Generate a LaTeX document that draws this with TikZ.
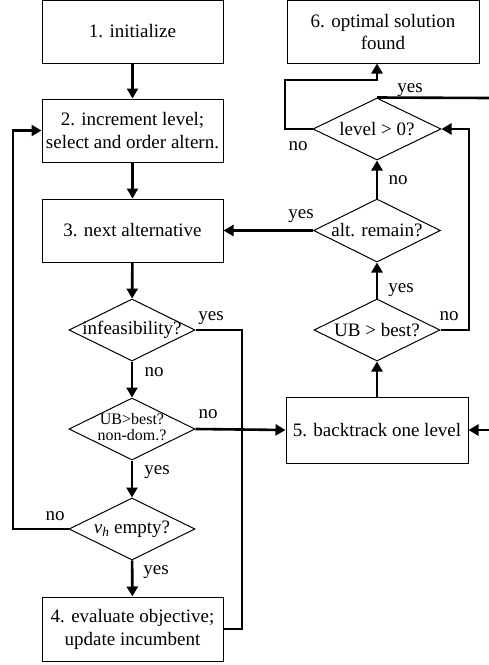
\documentclass[tikz,border=0pt]{standalone}
\usepackage{fontspec}
\setmainfont{Liberation Serif}
\usetikzlibrary{shapes.geometric,arrows.meta}
\begin{document}
\begin{tikzpicture}[x=1pt,y=-1pt,
  txt/.style={font=\fontsize{19}{23}\selectfont},
  box/.style={txt,draw,line width=1pt,rectangle,minimum width=181pt,minimum height=63pt,align=center,inner sep=0pt},
  dia/.style={txt,draw,line width=1pt,diamond,aspect=2,inner sep=0pt,minimum width=126pt,minimum height=62pt},
  conn/.style={line width=2.6pt},
  arr/.style={conn,-{Triangle[length=10pt,width=11pt]}},
  lbl/.style={txt,inner sep=0pt}]
\useasboundingbox (0,0) rectangle (489,665);
% left column
\node[box] (b1) at (132.5,31.5) {1. initialize};
\node[box] (b2) at (132.5,130.5) {2. increment level;\\select and order altern.};
\node[box] (b3) at (132.5,230.5) {3. next alternative};
\node[dia] (d1) at (132,330) {\makebox[0pt]{infeasibility?}};
\node[dia,font=\fontsize{16}{16.5}\selectfont] (d2) at (132,429) {\makebox[0pt]{\begin{tabular}{@{}c@{}}UB>best?\\non-dom.?\end{tabular}}};
\node[dia] (d3) at (132,529) {\makebox[0pt]{\textit{v}\textsubscript{\textit{h}} empty?}};
\node[box,minimum height=64pt] (b4) at (132.5,629) {4. evaluate objective;\\update incumbent};
% right column
\node[box,minimum width=192pt,font=\fontsize{19}{22}\selectfont] (b6) at (383,31.5) {6. optimal solution\\found};
\node[dia,minimum width=128pt] (d4) at (377,129) {\makebox[0pt]{level > 0?}};
\node[dia,minimum width=127pt,minimum height=63pt] (d5) at (377,230.5) {\makebox[0pt]{alt. remain?}};
\node[dia] (d6) at (377,330) {\makebox[0pt]{UB > best?}};
\node[box,minimum width=182pt,minimum height=66pt] (b5) at (377,430) {5. backtrack one level};
\coordinate (in5) at (489,430);
\coordinate (out4) at (489,98);
% connectors left
\draw[arr] (b1) -- (b2);
\draw[arr] (b2) -- (b3);
\draw[arr] (b3) -- (d1);
\draw[arr] (d1) -- (d2);
\draw[arr] (d2) -- (d3);
\draw[arr] (d3) -- (b4);
\draw[arr] (d3.west) -- (13,529) |- (b2.west);
\draw[conn] (d1.east) -- (242,330) |- (b4.east);
\draw[arr] (d2.east) -- (b5.west);
\draw[arr] (in5) -- (b5.east);
% connectors right
\draw[arr] (b5) -- (d6);
\draw[arr] (d6) -- (d5);
\draw[arr] (d5) -- (d4);
\draw[arr] (d5.west) -- (b3.east);
\draw[arr] (d6.east) -- (469,330) |- (d4.east);
\draw[arr] (d4.west) -- (285,129) |- (377,80) -- (b6.south -| d4.north);
\draw[conn] (d4.north) -- (out4);
% labels
\node[lbl] (l1) at (211,318) {yes};
\node[lbl] (l2) at (154,372) {no};
\node[lbl] (l3) at (208,414) {no};
\node[lbl] (l4) at (157,472) {yes};
\node[lbl] (l5) at (55,516) {no};
\node[lbl] (l6) at (156,572) {yes};
\node[lbl] (l7) at (301,216) {yes};
\node[lbl] (l8) at (398,180) {no};
\node[lbl] (l9) at (401,290) {yes};
\node[lbl] (l10) at (449,316) {no};
\node[lbl] (l11) at (298,146) {no};
\node[lbl] (l12) at (410,90) {yes};
\end{tikzpicture}
\end{document}
